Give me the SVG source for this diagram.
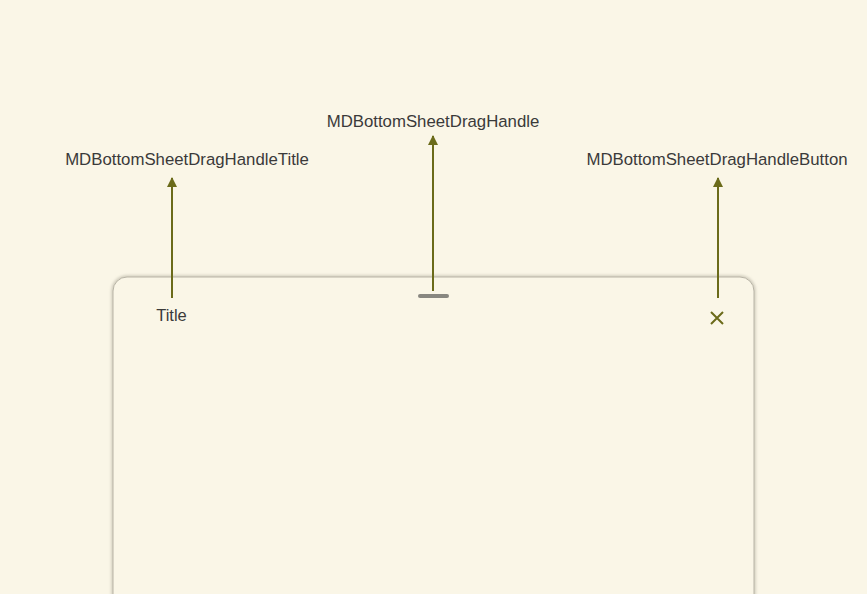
<svg xmlns="http://www.w3.org/2000/svg" width="867" height="594" viewBox="0 0 867 594">
<defs>
<style>
.lbl{font-family:"Liberation Sans",Arial,sans-serif;font-size:16.8px;fill:#3a3a3a;text-anchor:middle}
.conn{stroke:#6b6b1a;stroke-width:2;fill:none}
</style>
<marker id="ah" viewBox="0 0 10 10" refX="9" refY="5" markerWidth="5" markerHeight="5" orient="auto" markerUnits="strokeWidth">
<path d="M0,0 L10,5 L0,10 Z" fill="#6b6b1a"/>
</marker>
<filter id="sh" x="-5%" y="-5%" width="110%" height="110%">
<feGaussianBlur stdDeviation="1.5"/>
</filter>
</defs>
<rect width="867" height="594" fill="#faf6e7"/>
<g id="sheet">
<rect x="113" y="277" width="641" height="340" rx="14" fill="none" stroke="#c9c5b5" stroke-width="3" filter="url(#sh)"/>
<rect x="113" y="277" width="641" height="340" rx="14" fill="#faf6e7" stroke="#b8b4a6" stroke-width="1"/>
</g>
<g id="drag-handle">
<rect x="418" y="294" width="31" height="4" rx="2" fill="#888780"/>
</g>
<g id="title">
<text x="171.5" y="320.5" class="lbl" style="font-size:16.5px">Title</text>
</g>
<g id="close-button">
<path d="M711,312 L723,324 M723,312 L711,324" stroke="#6b6b1a" stroke-width="2"/>
</g>
<g id="label-title"><text x="187" y="164.5" class="lbl">MDBottomSheetDragHandleTitle</text></g>
<g id="label-handle"><text x="433" y="126.5" class="lbl">MDBottomSheetDragHandle</text></g>
<g id="label-button"><text x="717" y="164.5" class="lbl">MDBottomSheetDragHandleButton</text></g>
<g id="connectors">
<line x1="172" y1="298" x2="172" y2="178" class="conn" marker-end="url(#ah)"/>
<line x1="433" y1="291" x2="433" y2="136" class="conn" marker-end="url(#ah)"/>
<line x1="718" y1="298" x2="718" y2="178" class="conn" marker-end="url(#ah)"/>
</g>
</svg>
